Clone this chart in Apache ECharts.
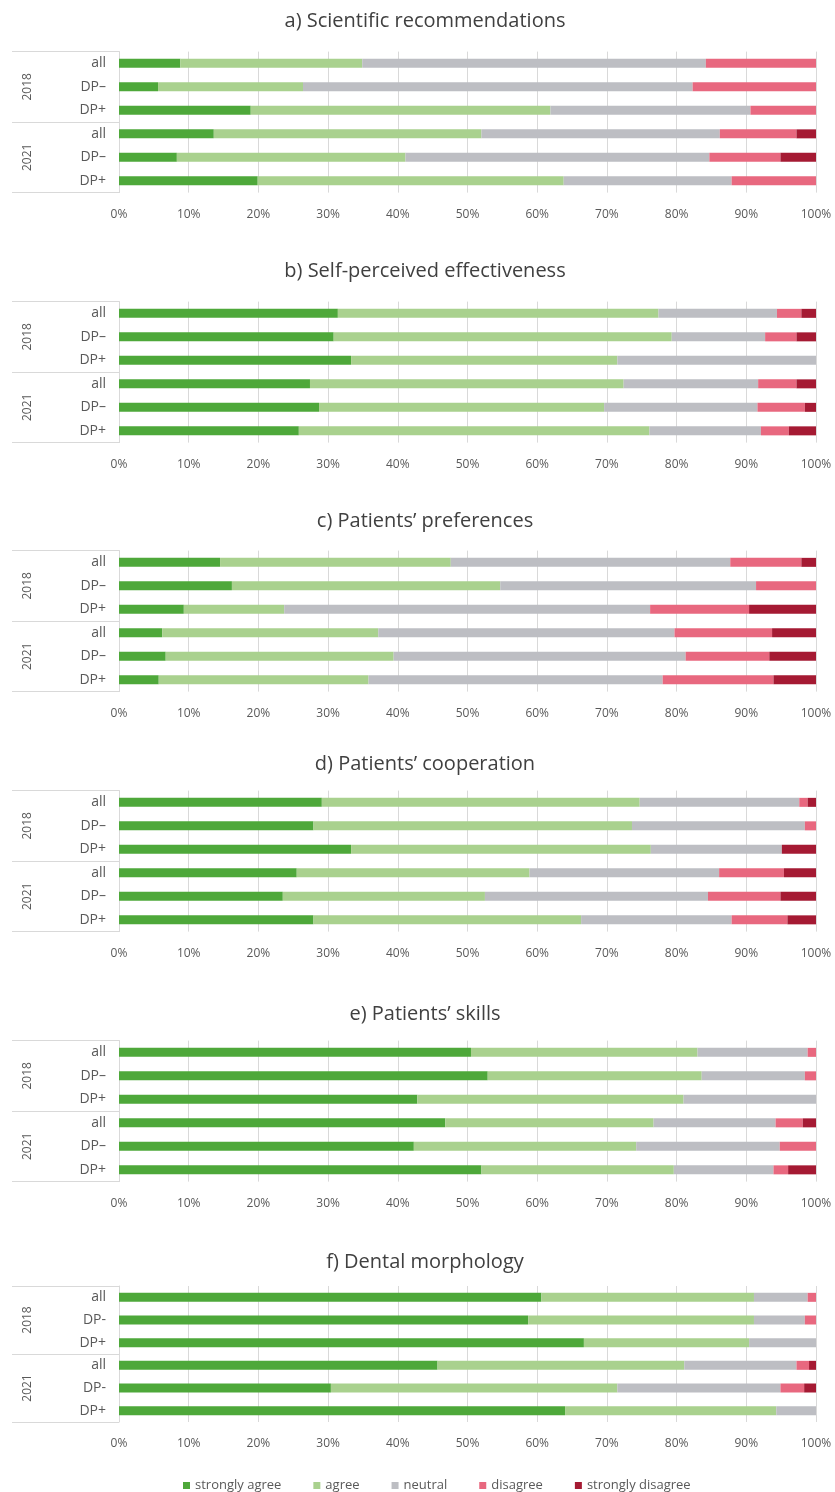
<!DOCTYPE html>
<html>
<head>
<meta charset="utf-8">
<title>Orthodontic survey responses</title>
<script src="https://cdn.jsdelivr.net/npm/echarts@6/dist/echarts.min.js"></script>
<style>
  html, body { margin: 0; padding: 0; background: #ffffff; }
  #chart { width: 835px; height: 1492px; }
</style>
</head>
<body>
<div id="chart"></div>
<script>
// Response levels (legend order) and their colours
const responses = ['strongly agree', 'agree', 'neutral', 'disagree', 'strongly disagree'];
const responseColors = ['#4ea83a', '#a9d18e', '#bdbec3', '#e8687f', '#a51a33'];

// Row labels per panel: 2018 (all, DP–, DP+) then 2021 (all, DP–, DP+)
const rowLabels = ['all', 'DP–', 'DP+', 'all', 'DP–', 'DP+'];
const rowLabelsHyphen = ['all', 'DP-', 'DP+', 'all', 'DP-', 'DP+'];
const years = ['2018', '2021'];

const panelTitles = [
  'a) Scientific recommendations',
  'b) Self-perceived effectiveness',
  'c) Patients\u2019 preferences',
  'd) Patients\u2019 cooperation',
  'e) Patients\u2019 skills',
  'f) Dental morphology'
];

// Percentages per row: [strongly agree, agree, neutral, disagree, strongly disagree]
const scientificRecommendations = [
  [8.8, 26.1, 49.3, 15.8, 0],
  [5.6, 20.8, 55.9, 17.7, 0],
  [18.9, 43.0, 28.7, 9.4, 0],
  [13.6, 38.4, 34.2, 11.0, 2.8],
  [8.3, 32.8, 43.6, 10.2, 5.1],
  [19.9, 43.9, 24.1, 12.1, 0]
];
const selfPerceivedEffectiveness = [
  [31.4, 46.0, 17.0, 3.5, 2.1],
  [30.8, 48.5, 13.4, 4.5, 2.8],
  [33.3, 38.2, 28.5, 0, 0],
  [27.4, 45.0, 19.3, 5.5, 2.8],
  [28.7, 40.9, 22.0, 6.8, 1.6],
  [25.8, 50.3, 16.0, 4.0, 3.9]
];
const patientsPreferences = [
  [14.5, 33.1, 40.1, 10.2, 2.1],
  [16.2, 38.5, 36.7, 8.6, 0],
  [9.3, 14.4, 52.5, 14.2, 9.6],
  [6.2, 31.0, 42.5, 14.0, 6.3],
  [6.7, 32.7, 41.9, 12.0, 6.7],
  [5.7, 30.1, 42.2, 15.9, 6.1]
];
const patientsCooperation = [
  [29.1, 45.6, 22.9, 1.2, 1.2],
  [27.9, 45.7, 24.8, 1.6, 0],
  [33.3, 43.0, 18.8, 0, 4.9],
  [25.5, 33.4, 27.2, 9.3, 4.6],
  [23.5, 29.0, 32.0, 10.4, 5.1],
  [27.9, 38.4, 21.6, 8.0, 4.1]
];
const patientsSkills = [
  [50.5, 32.5, 15.8, 1.2, 0],
  [52.9, 30.7, 14.8, 1.6, 0],
  [42.8, 38.2, 19.0, 0, 0],
  [46.8, 29.9, 17.5, 3.9, 1.9],
  [42.3, 31.9, 20.6, 5.2, 0],
  [52.0, 27.6, 14.3, 2.1, 4.0]
];
const dentalMorphology = [
  [60.6, 30.5, 7.7, 1.2, 0],
  [58.7, 32.4, 7.3, 1.6, 0],
  [66.7, 23.7, 9.6, 0, 0],
  [45.7, 35.4, 16.1, 1.8, 1.0],
  [30.4, 41.1, 23.4, 3.4, 1.7],
  [64.0, 30.3, 5.7, 0, 0]
];

const panelData = [
  scientificRecommendations,
  selfPerceivedEffectiveness,
  patientsPreferences,
  patientsCooperation,
  patientsSkills,
  dentalMorphology
];
const panelRowLabels = [rowLabels, rowLabels, rowLabels, rowLabels, rowLabels, rowLabelsHyphen];

// Layout of the six stacked panels
const gridLeft = 119;
const gridWidth = 697;
const gridTops = [51.6, 301.6, 550.6, 790.6, 1040.6, 1286];
const gridHeights = [141, 141, 141, 141, 141, 136];
const titleCenters = [20, 270, 520, 763, 1013, 1261];

const textColor = '#595959';
const lineColor = '#d9d9d9';
const fontFamily = '"Open Sans", "Noto Sans", sans-serif';

const grids = [], xAxes = [], yAxes = [], series = [], titles = [];

panelData.forEach(function (rows, p) {
  grids.push({ left: gridLeft, width: gridWidth, top: gridTops[p], height: gridHeights[p] });

  titles.push({
    text: panelTitles[p],
    left: 420,
    top: titleCenters[p] - 14,
    textAlign: 'center',
    textStyle: { fontFamily: fontFamily, fontSize: 20, fontWeight: 'normal', color: '#404040' }
  });

  xAxes.push({
    type: 'value',
    gridIndex: p,
    min: 0,
    max: 100,
    interval: 10,
    axisLine: { show: false },
    axisTick: { show: false },
    axisLabel: {
      formatter: '{value}%',
      margin: 16,
      fontSize: 12,
      fontFamily: fontFamily,
      color: textColor
    },
    splitLine: { show: true, lineStyle: { color: lineColor, width: 1 } }
  });

  // Row labels (all / DP– / DP+)
  yAxes.push({
    type: 'category',
    gridIndex: p,
    data: panelRowLabels[p],
    inverse: true,
    axisLine: { show: true, lineStyle: { color: lineColor } },
    axisTick: { show: false },
    axisLabel: {
      interval: 0,
      margin: 13,
      fontSize: 14,
      fontFamily: fontFamily,
      color: textColor
    }
  });

  // Year group labels with separating lines
  yAxes.push({
    type: 'category',
    gridIndex: p,
    data: years,
    inverse: true,
    position: 'left',
    axisLine: { show: false },
    axisTick: { show: true, length: 107, lineStyle: { color: lineColor } },
    axisLabel: {
      interval: 0,
      rotate: 90,
      margin: 85,
      fontSize: 12,
      fontFamily: fontFamily,
      color: textColor
    }
  });

  responses.forEach(function (name, r) {
    series.push({
      type: 'bar',
      name: name,
      stack: 'panel' + p,
      xAxisIndex: p,
      yAxisIndex: 2 * p,
      barWidth: 9,
      itemStyle: { color: responseColors[r] },
      emphasis: { disabled: true },
      data: rows.map(function (row) { return row[r]; })
    });
  });
});

const chart = echarts.init(document.getElementById('chart'), null, { renderer: 'canvas' });
chart.setOption({
  animation: false,
  backgroundColor: '#ffffff',
  title: titles,
  grid: grids,
  xAxis: xAxes,
  yAxis: yAxes,
  legend: {
    data: responses,
    top: 1474,
    left: 178,
    icon: 'rect',
    itemWidth: 7,
    itemHeight: 7,
    itemGap: 32,
    textStyle: { fontFamily: fontFamily, fontSize: 13, color: textColor }
  },
  series: series
});
</script>
</body>
</html>
